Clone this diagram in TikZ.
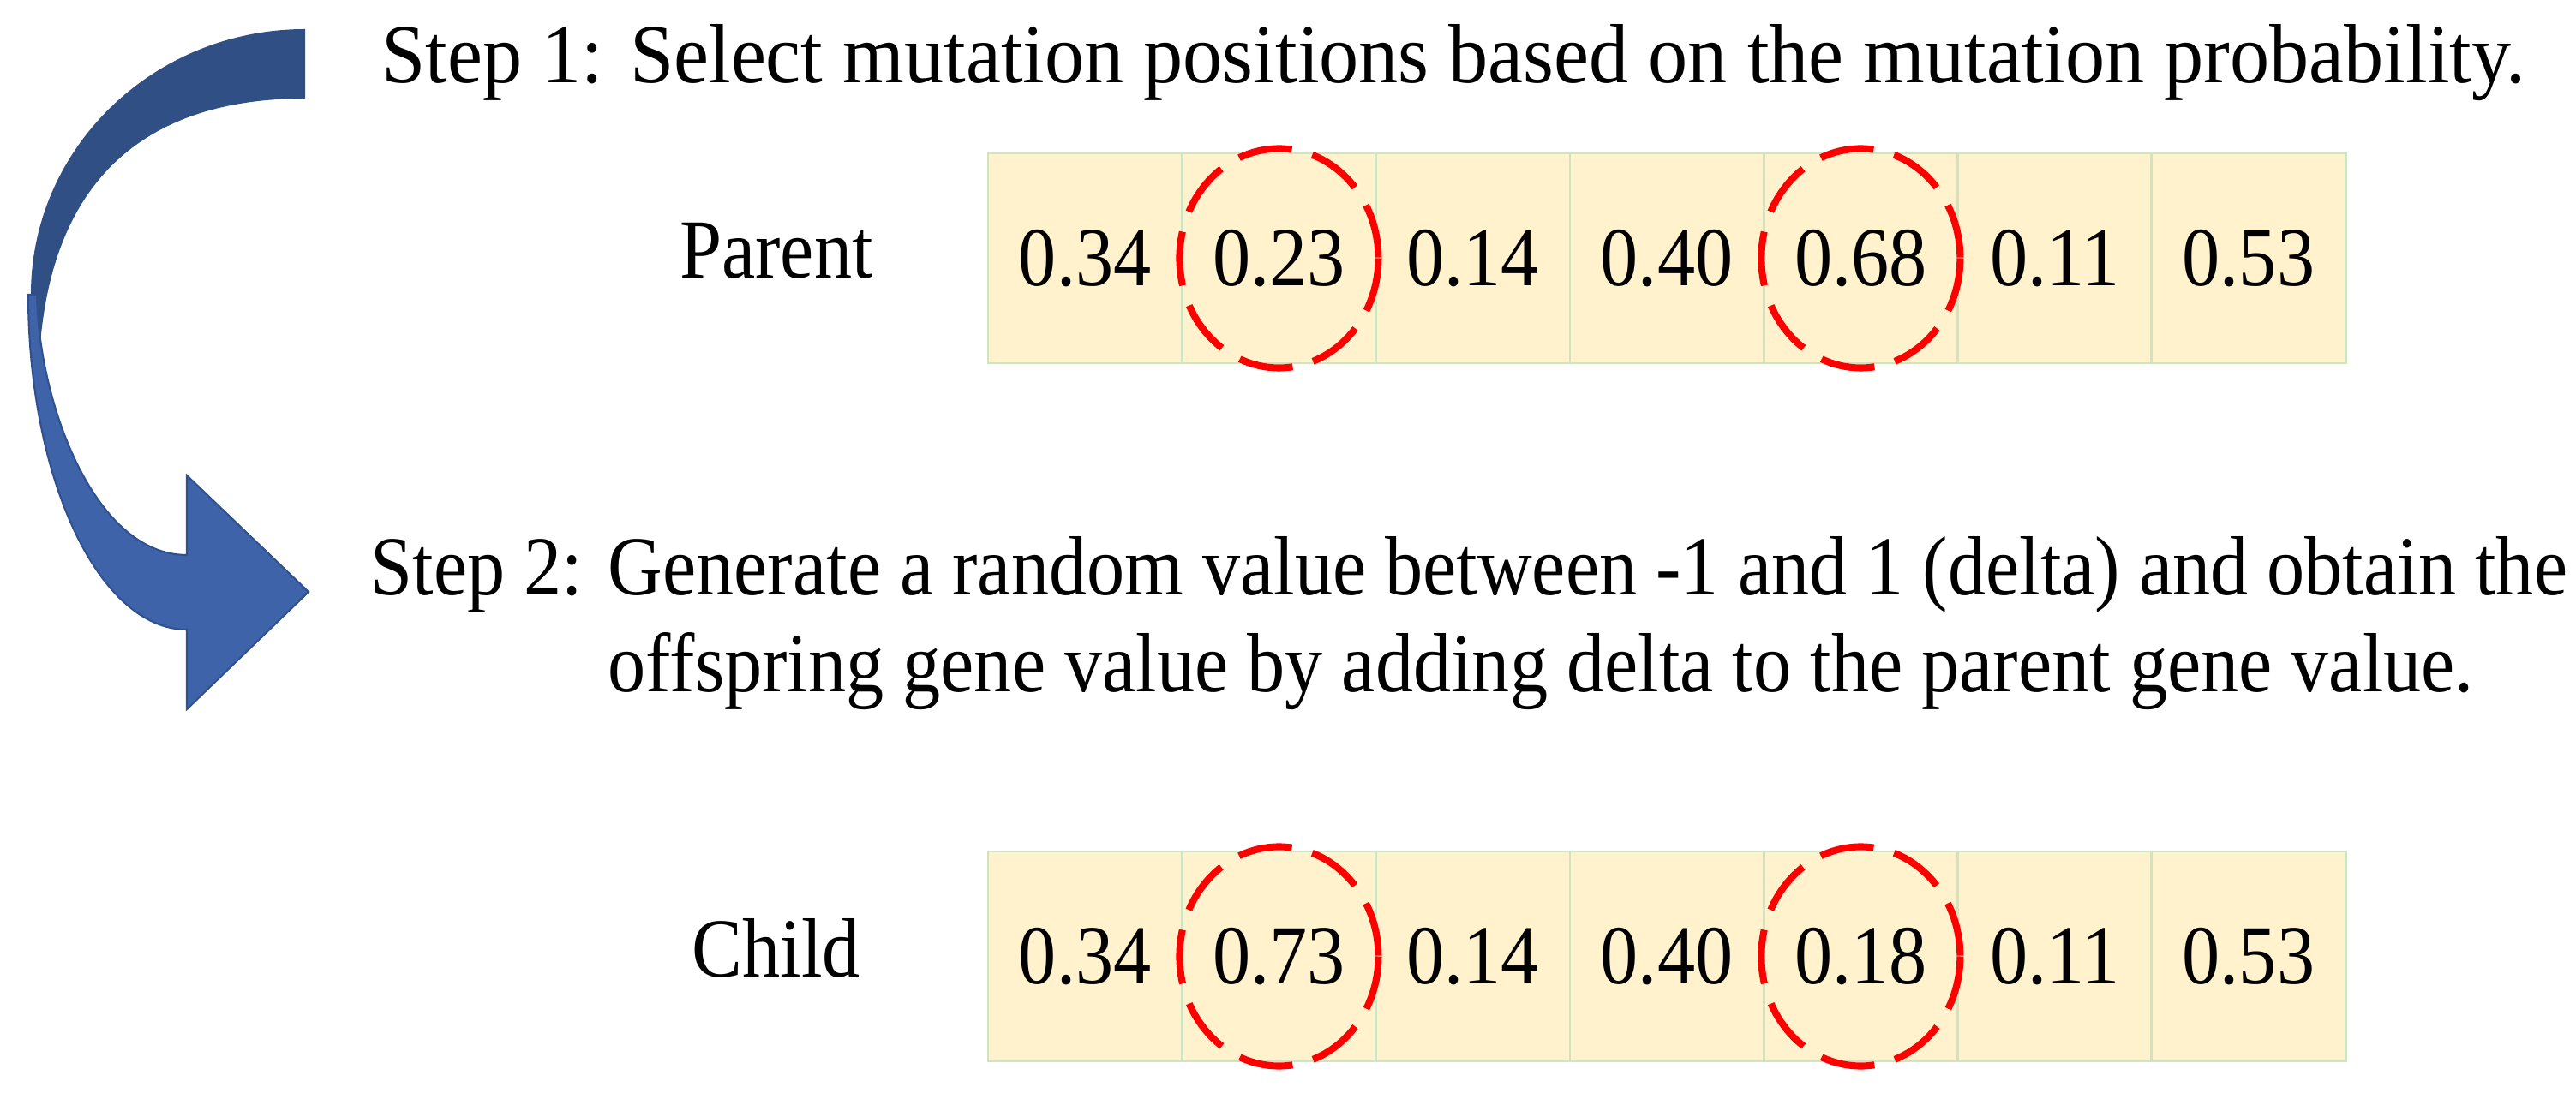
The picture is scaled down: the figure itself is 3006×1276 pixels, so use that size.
\documentclass[tikz,border=0pt]{standalone}
\usepackage{fontspec}
\setmainfont{Liberation Serif}[FakeStretch=0.9]
\usepackage{tikz}

\definecolor{genefill}{RGB}{255,242,204}
\definecolor{geneline}{RGB}{207,228,192}
\definecolor{arrowback}{RGB}{48,79,132}
\definecolor{arrowfront}{RGB}{63,99,168}
\definecolor{arrowedge}{RGB}{47,82,143}

\tikzset{
  gene/.style={draw=geneline, fill=genefill, line width=0.8pt, minimum width=22.63mm,
    minimum height=24.5mm, inner sep=0pt, font=\fontsize{27.9}{32}\selectfont},
  steptext/.style={anchor=base west, inner sep=0pt, font=\fontsize{27.9}{32}\selectfont},
  rowlabel/.style={anchor=base, inner sep=0pt, font=\fontsize{27.9}{32}\selectfont},
  mutring/.style={red, line width=2.3pt, dash pattern=on 18pt off 7pt}
}

\begin{document}
\begin{tikzpicture}[x=0.1mm, y=-0.1mm]
  \useasboundingbox (0,0) rectangle (3006,1276);

  \fill[arrowback] (356,34) .. controls (179,34) and (36,173) .. (36,344) -- (45,440)
    .. controls (50,200) and (180,115) .. (356,115) -- cycle;
  \filldraw[fill=arrowfront, draw=arrowedge, line width=0.6pt] (33,344)
    .. controls (33,560) and (116,735) .. (218,735) -- (218,828) -- (360,691)
    -- (218,555) -- (218,648) .. controls (110,648) and (45,470) .. (43,344) -- cycle;

  \node[steptext] (step1) at (445,97) {\scalebox{1.045}[1]{Step 1: Select mutation positions based on the mutation probability.}};
  \node[steptext] (step2) at (432,695) {Step 2: Generate a random value between -1 and 1 (delta) and obtain the};
  \node[steptext] (step2b) at (432,808) {\hphantom{Step 2: }offspring gene value by adding delta to the parent gene value.};

  \node[rowlabel] (parent) at (906,325) {Parent};
  \node[rowlabel] (child) at (906,1140) {Child};

  \foreach \v [count=\i] in {0.34,0.23,0.14,0.40,0.68,0.11,0.53}
    \node[gene] (p\i) at ({1153+226.3*(\i-0.5)},301.5) {\v};
  \foreach \v [count=\i] in {0.34,0.73,0.14,0.40,0.18,0.11,0.53}
    \node[gene] (c\i) at ({1153+226.3*(\i-0.5)},1116.5) {\v};

  \draw[mutring] (p2.center) ellipse [x radius=116, y radius=128];
  \draw[mutring] (p5.center) ellipse [x radius=116, y radius=128];
  \draw[mutring] (c2.center) ellipse [x radius=116, y radius=128];
  \draw[mutring] (c5.center) ellipse [x radius=116, y radius=128];
\end{tikzpicture}
\end{document}
